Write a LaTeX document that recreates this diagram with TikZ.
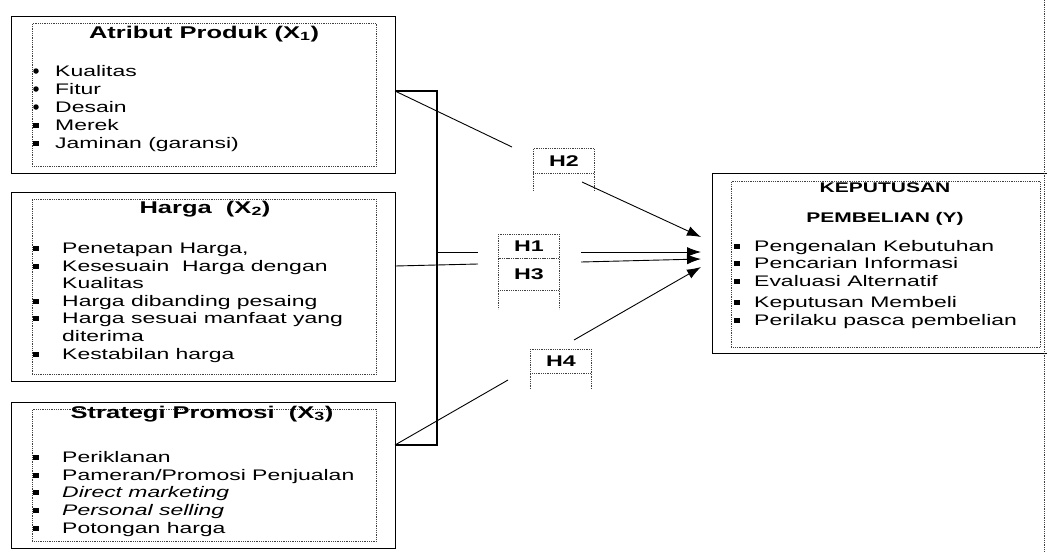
\documentclass[tikz,border=0pt]{standalone}
\usepackage{fontspec}
\setmainfont{Liberation Sans}[FakeStretch=1.5]
\usetikzlibrary{arrows.meta}
\begin{document}
\begin{tikzpicture}[x=1pt,y=-1pt,
  outerbox/.style={draw=black, line width=1.1pt, inner sep=0pt, anchor=north west},
  innerbox/.style={draw=black!75, densely dotted, line width=0.8pt, inner sep=0pt, anchor=north west},
  hbox/.style={draw=black!75, densely dotted, line width=0.8pt, inner sep=0pt, anchor=north west, minimum width=61pt, font=\fontsize{15.5}{18}\selectfont\bfseries},
  leg/.style={draw=black!75, densely dotted, line width=0.8pt},
  conn/.style={draw=black, line width=0.9pt},
  arr/.style={draw=black, line width=0.9pt, -{Latex[length=14pt,width=10pt]}},
  ttl/.style={anchor=base, inner sep=0pt, font=\fontsize{17}{20}\selectfont\bfseries},
  ttlsm/.style={anchor=base, inner sep=0pt, font=\fontsize{14}{17}\selectfont\bfseries},
  itm/.style={anchor=base west, inner sep=0pt, font=\fontsize{15.3}{18}\selectfont},
  sq/.style={fill=black, inner sep=0pt, minimum width=5.5pt, minimum height=5pt},
  dot/.style={fill=black, circle, inner sep=0pt, minimum size=5.5pt}
]
\useasboundingbox (0,0) rectangle (1047,552);
\clip (0,0) rectangle (1047,552);

% ---------- Box 1 ----------
\node[outerbox, minimum width=384pt, minimum height=157pt] (b1) at (11,16) {};
\node[innerbox, minimum width=344pt, minimum height=143pt] (b1i) at (32,23) {};
\node[ttl] (t1) at (204,38) {Atribut Produk (X\textsubscript{1})};
\node[itm] (i11) at (55,76) {Kualitas};
\node[itm] (i12) at (55,94) {Fitur};
\node[itm] (i13) at (55,112) {Desain};
\node[itm] (i14) at (55,130) {Merek};
\node[itm] (i15) at (55,148) {Jaminan (garansi)};
\node[dot] (d11) at (36,71) {};
\node[dot] (d12) at (36,89) {};
\node[dot] (d13) at (36,107) {};
\node[sq] (d14) at (36,125) {};
\node[sq] (d15) at (36,143) {};

% ---------- Box 2 ----------
\node[outerbox, minimum width=384pt, minimum height=189pt] (b2) at (11,192) {};
\node[innerbox, minimum width=344pt, minimum height=175pt] (b2i) at (32,199) {};
\node[ttl] (t2) at (205,213) {Harga\ \ (X\textsubscript{2})};
\node[itm] (i21) at (62,253) {Penetapan Harga,};
\node[itm] (i22) at (62,271) {Kesesuain\ \ Harga dengan};
\node[itm] (i23) at (62,288) {Kualitas};
\node[itm] (i24) at (62,306) {Harga dibanding pesaing};
\node[itm] (i25) at (62,323) {Harga sesuai manfaat yang};
\node[itm] (i26) at (62,341) {diterima};
\node[itm] (i27) at (62,359) {Kestabilan harga};
\node[sq] (d21) at (36,248) {};
\node[sq] (d22) at (36,266) {};
\node[sq] (d24) at (36,301) {};
\node[sq] (d25) at (36,318) {};
\node[sq] (d27) at (36,354) {};

% ---------- Box 3 ----------
\node[outerbox, minimum width=384pt, minimum height=146pt] (b3) at (11,402) {};
\node[innerbox, minimum width=344pt, minimum height=132pt] (b3i) at (32,409) {};
\node[ttl] (t3) at (202,418) {Strategi Promosi\ \ (X\textsubscript{3})};
\node[itm] (i31) at (62,462) {Periklanan};
\node[itm] (i32) at (62,480) {Pameran/Promosi Penjualan};
\node[itm] (i33) at (62,497) {\itshape Direct marketing};
\node[itm] (i34) at (62,515) {\itshape Personal selling};
\node[itm] (i35) at (62,533) {Potongan harga};
\node[sq] (d31) at (36,457) {};
\node[sq] (d32) at (36,475) {};
\node[sq] (d33) at (36,492) {};
\node[sq] (d34) at (36,510) {};
\node[sq] (d35) at (36,528) {};

% ---------- Right box ----------
\node[outerbox, minimum width=345pt, minimum height=180pt] (by) at (712,173) {};
\node[innerbox, minimum width=309pt, minimum height=166pt] (byi) at (731,181) {};
\node[ttlsm] (ty1) at (885,192) {KEPUTUSAN};
\node[ttlsm] (ty2) at (885,222) {PEMBELIAN (Y)};
\node[itm] (iy1) at (754,251) {Pengenalan Kebutuhan};
\node[itm] (iy2) at (754,268) {Pencarian Informasi};
\node[itm] (iy3) at (754,286) {Evaluasi Alternatif};
\node[itm] (iy4) at (754,307) {Keputusan Membeli};
\node[itm] (iy5) at (754,325) {Perilaku pasca pembelian};
\node[sq] (dy1) at (737,246) {};
\node[sq] (dy2) at (737,263) {};
\node[sq] (dy3) at (737,281) {};
\node[sq] (dy4) at (737,302) {};
\node[sq] (dy5) at (737,320) {};

% far right dotted rule
\coordinate (rt) at (1044,0);
\coordinate (rb) at (1044,552);
\draw[leg] (rt) -- (rb);

% ---------- Bracket ----------
\coordinate (bt) at (395,91);
\coordinate (btr) at (437,91);
\coordinate (bbr) at (437,445);
\coordinate (bb) at (395,445);
\draw[conn, line width=1.2pt] (bt) -- (btr) -- (bbr) -- (bb);

% ---------- Hypothesis boxes ----------
\node[hbox, minimum height=25pt] (h2) at (533,148) {H2};
\draw[leg] (h2.south west) -- ++(0,17);
\draw[leg] (h2.south east) -- ++(0,17);
\node[hbox, minimum height=24pt] (h1) at (498,234) {H1};
\node[hbox, minimum height=32pt] (h3) at (498,258) {H3};
\draw[leg] (h3.south west) -- ++(0,18);
\draw[leg] (h3.south east) -- ++(0,18);
\node[hbox, minimum height=24pt] (h4) at (530,349) {H4};
\draw[leg] (h4.south west) -- ++(0,16);
\draw[leg] (h4.south east) -- ++(0,16);

% ---------- Connectors ----------
\coordinate (p2) at (512,147);
\draw[conn] (bt) -- (p2);
\coordinate (a2s) at (582,182);
\coordinate (a2e) at (701,237);
\draw[arr] (a2s) -- (a2e);

\coordinate (m1) at (437,252);
\coordinate (m1e) at (478,252);
\draw[conn] (m1) -- (m1e);
\coordinate (b2r) at (395,266);
\coordinate (m2e) at (478,264);
\draw[conn] (b2r) -- (m2e);
\coordinate (a1s) at (581,252);
\coordinate (a1e) at (701,252);
\draw[arr] (a1s) -- (a1e);
\coordinate (a3s) at (581,262);
\coordinate (a3e) at (701,259);
\draw[arr] (a3s) -- (a3e);

\coordinate (p4) at (508,380);
\draw[conn] (bb) -- (p4);
\coordinate (a4s) at (574,340);
\coordinate (a4e) at (701,267);
\draw[arr] (a4s) -- (a4e);
\end{tikzpicture}
\end{document}
